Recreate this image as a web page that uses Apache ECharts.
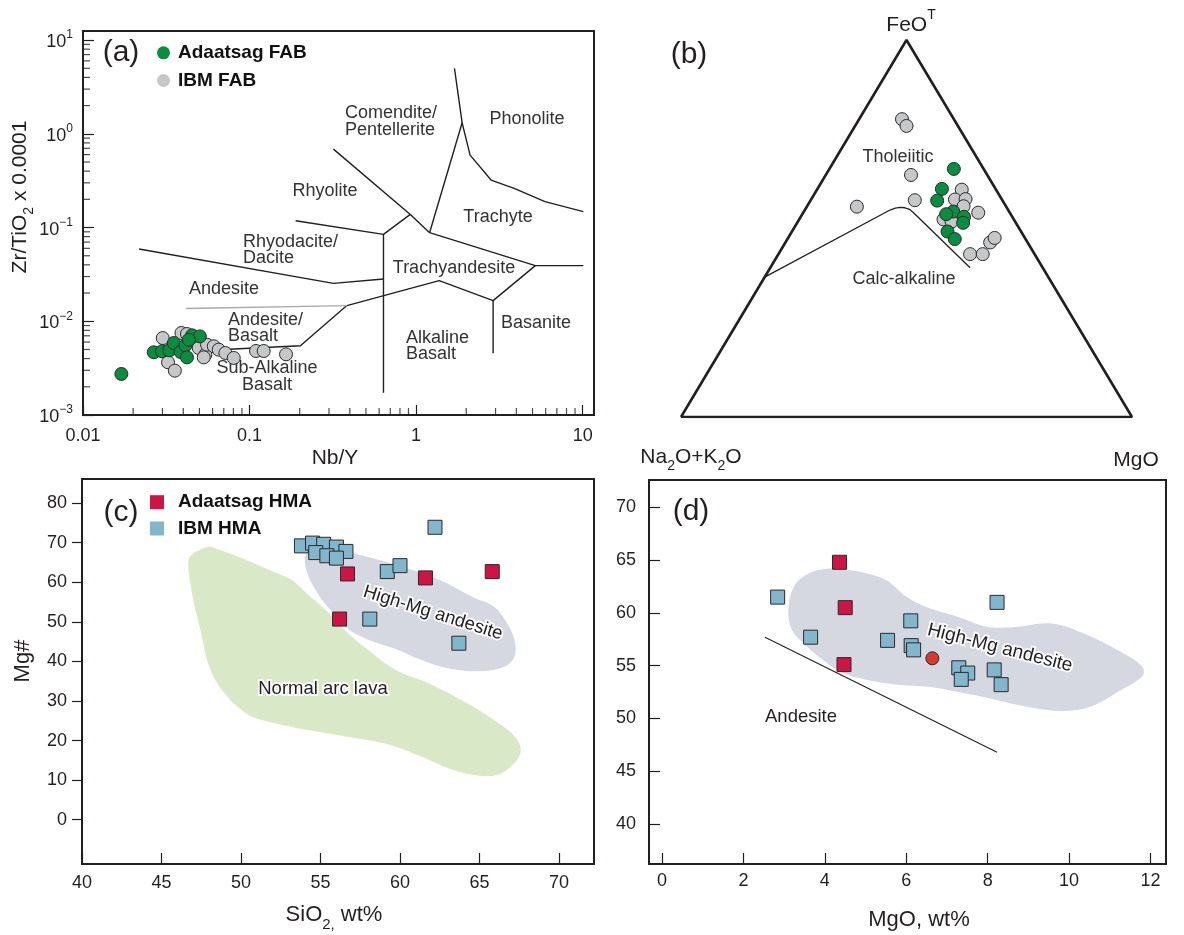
<!DOCTYPE html>
<html>
<head>
<meta charset="utf-8">
<title>Adaatsag FAB / HMA geochemistry</title>
<script src="https://cdn.jsdelivr.net/npm/echarts@6.0.0/dist/echarts.min.js"></script>
<style>
  html, body { margin: 0; padding: 0; background: #fff; }
  #chart { width: 1184px; height: 935px; }
</style>
</head>
<body>
<div id="chart"></div>
<script>
// ---------- (a) Zr/TiO2 vs Nb/Y ----------
const adaatsagFabNbY  = [0.0170, 0.0266, 0.0298, 0.0330, 0.0351, 0.0385, 0.0412, 0.0421, 0.0452, 0.0503, 0.0432];
const adaatsagFabZrTi = [0.00274, 0.00467, 0.00478, 0.00490, 0.00586, 0.00470, 0.00553, 0.00412, 0.00708, 0.00690, 0.00635];
const ibmFabNbY  = [0.0301, 0.0390, 0.0421, 0.0324, 0.0356, 0.0495, 0.0543, 0.0556, 0.0610, 0.0653, 0.0716, 0.0804, 0.0531, 0.1094, 0.1216, 0.1656];
const ibmFabZrTi = [0.00662, 0.00750, 0.00731, 0.00365, 0.00297, 0.00519, 0.00440, 0.00562, 0.00541, 0.00498, 0.00459, 0.00406, 0.00412, 0.00482, 0.00482, 0.00444];

// rock-type field boundaries, each a polyline of [Nb/Y, Zr/TiO2 x 0.0001]
const fieldBoundaries = [
  [[0.319, 0.687], [0.923, 0.138], [1.205, 0.0881]],
  [[0.189, 0.118], [0.637, 0.0846], [0.923, 0.138]],
  [[1.205, 0.0881], [1.89, 1.31]],
  [[1.70, 4.99], [1.89, 1.31], [2.11, 0.593], [2.82, 0.321], [3.88, 0.262], [5.94, 0.189], [10.1, 0.148]],
  [[1.205, 0.0881], [5.20, 0.0392], [10.1, 0.0392]],
  [[0.637, 0.0846], [0.637, 0.00173]],
  [[0.0217, 0.059], [0.319, 0.0254], [0.637, 0.0282]],
  [[0.075, 0.00502], [0.202, 0.00548], [0.384, 0.0147], [1.376, 0.0271], [2.90, 0.0166], [5.20, 0.0392]],
  [[2.90, 0.0166], [2.90, 0.00455]]
];
const andesiteDivide = [[0.0416, 0.0137], [0.384, 0.0147]];
const logMinorSteps = [2, 3, 4, 5, 6, 7, 8, 9];

// ---------- (b) AFM ternary, values in % (A = 100 - F - M) ----------
const afmAdaatsagF = [65.8, 60.5, 57.4, 54.5, 53.1, 51.5, 49.2, 47.2, 53.8];
const afmAdaatsagM = [27.6, 27.6, 28.1, 33.1, 36.2, 36.8, 34.5, 37.1, 31.9];
const afmIbmF = [79.0, 77.2, 64.2, 55.8, 57.5, 60.3, 57.7, 57.8, 55.9, 54.2, 52.4, 51.8, 43.2, 43.2, 46.3, 47.5];
const afmIbmM = [9.5, 11.4, 18.9, 11.1, 23.1, 32.1, 31.9, 34.2, 34.7, 38.8, 32.0, 34.1, 42.5, 45.3, 45.4, 45.8];
const afmCalcAlkalineF = [37.1, 54.9, 55.4, 55.6, 55.5, 55.1, 54.3, 39.6];
const afmCalcAlkalineM = [0.0, 18.9, 19.8, 20.8, 21.9, 23.1, 24.3, 44.3];
const afmFrameF = [0, 100, 0, 0];
const afmFrameM = [0, 0, 100, 0];

// ---------- (c) Mg# vs SiO2 ----------
const hmaAdaatsagSiO2 = [56.7, 56.2, 61.6, 65.8];
const hmaAdaatsagMgNo = [62.1, 50.7, 61.1, 62.7];
const hmaIbmSiO2 = [53.8, 54.5, 55.2, 56.0, 56.6, 54.7, 55.4, 56.0, 62.2, 59.2, 60.0, 58.1, 63.7];
const hmaIbmMgNo = [69.2, 69.9, 69.6, 68.9, 67.8, 67.5, 66.7, 66.1, 73.9, 62.7, 64.2, 50.7, 44.6];
const normalArcField = [
  [46.8, 66.5], [47.9, 68.9], [48.5, 68.4], [50.3, 65.7], [51.7, 63.2], [53.2, 60.6], [54.1, 57.3],
  [55.3, 53.1], [56.5, 48.0], [57.7, 43.8], [59.7, 37.9], [61.8, 34.5], [64.2, 29.5], [66.2, 24.4],
  [67.2, 21.1], [67.6, 17.7], [67.2, 14.3], [66.2, 11.4], [65.0, 11.1], [63.3, 12.6], [61.3, 16.0],
  [59.4, 18.9], [56.5, 21.1], [54.1, 22.7], [51.7, 24.8], [50.3, 26.9], [48.8, 32.8], [48.0, 38.7],
  [47.4, 48.8], [47.0, 55.6], [46.7, 63.2]
];
const hmaFieldSiO2 = [
  [54.1, 67.4], [54.8, 68.2], [56.5, 67.8], [58.0, 66.4], [60.1, 64.0], [62.5, 60.6], [64.7, 56.0],
  [65.9, 53.9], [66.6, 50.5], [67.2, 45.5], [67.2, 41.3], [66.6, 38.7], [65.0, 37.5], [63.0, 38.3],
  [61.3, 40.4], [59.9, 42.9], [58.0, 45.5], [56.8, 48.0], [55.8, 52.2], [54.8, 57.3], [54.1, 63.2]
];
const sio2Ticks = [40, 45, 50, 55, 60, 65, 70];
const mgNoTicksC = [0, 10, 20, 30, 40, 50, 60, 70, 80];

// ---------- (d) Mg# vs MgO ----------
const hmaAdaatsagMgO = [4.36, 4.50, 4.47];
const hmaAdaatsagMgNoD = [64.8, 60.5, 55.1];
const hmaIbmMgO = [2.84, 3.65, 5.54, 6.11, 6.12, 6.18, 7.29, 7.51, 7.35, 8.16, 8.33, 8.23];
const hmaIbmMgNoD = [61.5, 57.7, 57.4, 59.25, 56.9, 56.5, 54.8, 54.3, 53.7, 54.6, 53.2, 61.0];
const averageMgO = [6.64];
const averageMgNo = [55.7];
const andesiteLineMgO = [2.53, 8.23];
const andesiteLineMgNo = [57.7, 46.8];
const hmaFieldMgO = [
  [3.10, 60.3], [3.24, 62.5], [3.53, 63.6], [4.09, 64.2], [4.85, 63.9], [5.51, 63.1], [5.98, 61.6],
  [6.46, 60.6], [7.21, 59.7], [7.97, 58.7], [8.63, 58.65], [9.57, 59.0], [10.33, 58.1], [11.28, 56.3],
  [11.80, 54.9], [11.80, 54.0], [11.28, 52.7], [10.52, 51.1], [9.86, 50.7], [9.10, 51.0], [8.16, 51.8],
  [7.21, 52.55], [6.55, 53.0], [5.79, 53.2], [5.04, 53.65], [4.38, 54.4], [3.90, 55.7], [3.48, 57.1],
  [3.19, 58.4]
];
const mgoTicks = [0, 2, 4, 6, 8, 10, 12];
const mgNoTicksD = [40, 45, 50, 55, 60, 65, 70];

// ---------- styling ----------
const FONT = "'Liberation Sans', Arial, Helvetica, sans-serif";
const INK = '#231f20';
const TEXT = '#333333';
const GREEN = '#0b8d3f';
const GREY = '#c6c7c8';
const CRIMSON = '#cd1444';
const BLUE = '#82b6cd';
const AVG_RED = '#d33b2e';
const OUTLINE = '#2a2a2a';

const zip = (xs, ys) => xs.map((x, i) => [x, ys[i]]);
const ternaryXY = (F, M) => F.map((f, i) => [(M[i] + f / 2) / 100, f / 100]);

function lineSeries(idx, data, color, width) {
  return {
    type: 'line', xAxisIndex: idx, yAxisIndex: idx, data, symbol: 'none', silent: true, z: 3,
    lineStyle: { color, width }
  };
}
function scatterSeries(idx, name, data, symbol, size, color, z) {
  return {
    type: 'scatter', name, xAxisIndex: idx, yAxisIndex: idx, data, symbol, symbolSize: size, z: z || 5,
    itemStyle: { color, borderColor: OUTLINE, borderWidth: 1, opacity: 1 }
  };
}
function fieldSeries(idx, pts, color) {
  return {
    type: 'custom', xAxisIndex: idx, yAxisIndex: idx, silent: true, z: 1, data: pts,
    renderItem: (params, api) => {
      if (params.dataIndex !== 0) return null;
      return {
        type: 'polygon',
        shape: { points: pts.map(p => api.coord(p)), smooth: 0.35 },
        style: { fill: color }
      };
    }
  };
}

// log-decade minor ticks along the inside of the (a) frame
const xMinor = [], yMinor = [];
[0.01, 0.1, 1].forEach(d => logMinorSteps.forEach(k => xMinor.push([k * d, 0.001])));
[0.001, 0.01, 0.1, 1].forEach(d => logMinorSteps.forEach(k => yMinor.push([0.01, k * d])));

const series = [];
// (a)
fieldBoundaries.forEach(pl => series.push(lineSeries(0, pl, INK, 1.4)));
series.push(lineSeries(0, andesiteDivide, '#a9a9a9', 1.4));
series.push({ type: 'scatter', xAxisIndex: 0, yAxisIndex: 0, data: xMinor, symbol: 'rect',
  symbolSize: [1.2, 7], symbolOffset: [0, -3.5], itemStyle: { color: INK }, silent: true, clip: false, z: 6 });
series.push({ type: 'scatter', xAxisIndex: 0, yAxisIndex: 0, data: yMinor, symbol: 'rect',
  symbolSize: [7, 1.2], symbolOffset: [3.5, 0], itemStyle: { color: INK }, silent: true, clip: false, z: 6 });
series.push(scatterSeries(0, 'IBM FAB', zip(ibmFabNbY, ibmFabZrTi), 'circle', 13, GREY));
series.push(scatterSeries(0, 'Adaatsag FAB', zip(adaatsagFabNbY, adaatsagFabZrTi), 'circle', 13, GREEN));
// (b)
series.push(lineSeries(1, ternaryXY(afmFrameF, afmFrameM), INK, 2.6));
series.push(lineSeries(1, ternaryXY(afmCalcAlkalineF, afmCalcAlkalineM), INK, 1.3));
series.push(scatterSeries(1, 'IBM FAB', ternaryXY(afmIbmF, afmIbmM), 'circle', 13, GREY));
series.push(scatterSeries(1, 'Adaatsag FAB', ternaryXY(afmAdaatsagF, afmAdaatsagM), 'circle', 13, GREEN));
// (c)
series.push(fieldSeries(2, normalArcField, '#d9e8c7'));
series.push(fieldSeries(2, hmaFieldSiO2, '#d5d8e0'));
series.push(scatterSeries(2, 'IBM HMA', zip(hmaIbmSiO2, hmaIbmMgNo), 'rect', 14, BLUE));
series.push(scatterSeries(2, 'Adaatsag HMA', zip(hmaAdaatsagSiO2, hmaAdaatsagMgNo), 'rect', 14, CRIMSON));
// (d)
series.push(fieldSeries(3, hmaFieldMgO, '#d5d8e0'));
series.push(lineSeries(3, zip(andesiteLineMgO, andesiteLineMgNo), INK, 1.1));
series.push(scatterSeries(3, 'IBM HMA', zip(hmaIbmMgO, hmaIbmMgNoD), 'rect', 14, BLUE));
series.push(scatterSeries(3, 'Adaatsag HMA', zip(hmaAdaatsagMgO, hmaAdaatsagMgNoD), 'rect', 14, CRIMSON));
series.push(scatterSeries(3, 'Average', zip(averageMgO, averageMgNo), 'circle', 13, AVG_RED));

const tickFont = { fontFamily: FONT, fontSize: 18, color: INK };
const frame = { show: true, borderColor: INK, borderWidth: 2, backgroundColor: 'transparent' };
const noLine = { show: false, onZero: false };
const hidden = { show: false };

function valueAxis(idx, min, max, ticks, tickInside, tickLen, margin) {
  return {
    type: 'value', gridIndex: idx, min, max,
    axisLine: noLine, splitLine: hidden,
    axisTick: { show: true, inside: tickInside, length: tickLen, customValues: ticks,
      lineStyle: { color: INK, width: 1.2 } },
    axisLabel: Object.assign({ margin, customValues: ticks }, tickFont)
  };
}

const richBase = { fontFamily: FONT, fontSize: 18, color: INK, fill: INK };
const richSupY = { b: Object.assign({}, richBase, { verticalAlign: 'bottom', lineHeight: 22 }),
  s: Object.assign({}, richBase, { fontSize: 12, verticalAlign: 'top', lineHeight: 11 }) };

function text(x, y, str, o) {
  o = o || {};
  const style = {
    text: str, fill: o.fill || TEXT, fontFamily: FONT, fontSize: o.size || 18,
    fontWeight: o.weight || 'normal', align: o.align || 'center', verticalAlign: 'middle'
  };
  if (o.lineHeight) style.lineHeight = o.lineHeight;
  if (o.rich) style.rich = o.rich;
  if (o.halo) { style.stroke = '#ffffff'; style.lineWidth = 3.5; style.strokeFirst = true; }
  return { type: 'text', x, y, rotation: o.rotation || 0, silent: true, z: 50, style };
}
const sub = (size) => ({
  n: { fontFamily: FONT, fontSize: size, fill: INK, color: INK, verticalAlign: 'top', lineHeight: size + 6 },
  sub: { fontFamily: FONT, fontSize: Math.round(size * 0.68), fill: INK, color: INK, verticalAlign: 'bottom', lineHeight: Math.round(size * 0.68) },
  sup: { fontFamily: FONT, fontSize: Math.round(size * 0.68), fill: INK, color: INK, verticalAlign: 'top', lineHeight: Math.round(size * 0.68) },
  m: { fontFamily: FONT, fontSize: size, fill: INK, color: INK, verticalAlign: 'bottom', lineHeight: size + 6 }
});
const deg = Math.PI / 180;

const graphics = [
  // panel letters
  text(121, 53, '(a)', { size: 30, fill: INK }),
  text(689, 55, '(b)', { size: 30, fill: INK }),
  text(121, 513, '(c)', { size: 30, fill: INK }),
  text(691, 512, '(d)', { size: 30, fill: INK }),
  // axis titles
  text(335, 458, 'Nb/Y', { size: 21, fill: INK }),
  text(23, 197, '{n|Zr/TiO}{sub|2}{n| x 0.0001}', { size: 21, rich: sub(21), rotation: 90 * deg }),
  text(334, 918, '{n|SiO}{sub|2,}{n| wt%}', { size: 22, rich: sub(22) }),
  text(23, 661, 'Mg#', { size: 22, fill: INK, rotation: 90 * deg }),
  text(919, 920, 'MgO, wt%', { size: 22, fill: INK }),
  text(911, 22, '{m|FeO}{sup|T}', { size: 21, rich: sub(21) }),
  text(691, 460, '{n|Na}{sub|2}{n|O+K}{sub|2}{n|O}', { size: 21, rich: sub(21) }),
  text(1136, 460, 'MgO', { size: 21, fill: INK }),
  // (a) field names
  text(345, 122, 'Comendite/\nPentellerite', { align: 'left', lineHeight: 17 }),
  text(527, 119, 'Phonolite'),
  text(325, 191, 'Rhyolite'),
  text(498, 217, 'Trachyte'),
  text(243, 250.5, 'Rhyodacite/\nDacite', { align: 'left', lineHeight: 16 }),
  text(454, 268, 'Trachyandesite'),
  text(224, 289, 'Andesite'),
  text(228, 328, 'Andesite/\nBasalt', { align: 'left', lineHeight: 16 }),
  text(536, 323, 'Basanite'),
  text(406, 346, 'Alkaline\nBasalt', { align: 'left', lineHeight: 16.5 }),
  text(267, 376.5, 'Sub-Alkaline\nBasalt', { lineHeight: 16.5 }),
  // (b) series names
  text(898, 157, 'Tholeiitic'),
  text(904, 279, 'Calc-alkaline'),
  // (c) and (d) field names
  text(323, 689, 'Normal arc lava', { size: 18.5, fill: INK, halo: true }),
  text(433, 613, 'High-Mg andesite', { size: 18.5, fill: INK, halo: true, rotation: -17.4 * deg }),
  text(1000, 648, 'High-Mg andesite', { size: 19, fill: INK, halo: true, rotation: -14.3 * deg }),
  text(801, 717, 'Andesite', { size: 18.5, fill: INK })
];

const legendText = { fontFamily: FONT, fontSize: 19, fontWeight: 'bold', color: '#111', lineHeight: 18 };

const option = {
  animation: false,
  backgroundColor: '#ffffff',
  legend: [
    { data: ['Adaatsag FAB', 'IBM FAB'], orient: 'vertical', left: 157, top: 43.3, padding: 0,
      itemWidth: 13, itemHeight: 13, itemGap: 8.7, icon: 'circle', selectedMode: false,
      itemStyle: { borderWidth: 0 }, textStyle: Object.assign({ padding: [0, 0, 0, 3] }, legendText) },
    { data: ['Adaatsag HMA', 'IBM HMA'], orient: 'vertical', left: 150, top: 492.7, padding: 0,
      itemWidth: 14, itemHeight: 14, itemGap: 7.3, icon: 'rect', selectedMode: false,
      itemStyle: { borderWidth: 0 }, textStyle: Object.assign({ padding: [0, 0, 0, 9] }, legendText) }
  ],
  grid: [
    Object.assign({ left: 83, top: 31, width: 511, height: 384 }, frame),
    { left: 681, top: 40, width: 451, height: 377, show: false },
    Object.assign({ left: 82, top: 479, width: 512, height: 385 }, frame),
    Object.assign({ left: 649, top: 480, width: 517, height: 384 }, frame)
  ],
  xAxis: [
    { type: 'log', logBase: 10, gridIndex: 0, min: 0.01, max: 11.7,
      axisLine: noLine, splitLine: hidden, minorTick: hidden,
      axisTick: { show: true, inside: true, length: 10, lineStyle: { color: INK, width: 1.2 } },
      axisLabel: Object.assign({ margin: 12, showMaxLabel: false,
        formatter: v => String(Number(v.toPrecision(4))) }, tickFont) },
    { type: 'value', gridIndex: 1, min: 0, max: 1, show: false },
    valueAxis(2, 40, 72.2, sio2Ticks, true, 11, 10),
    valueAxis(3, -0.32, 12.38, mgoTicks, true, 11, 8.5)
  ],
  yAxis: [
    { type: 'log', logBase: 10, gridIndex: 0, min: 0.001, max: 12.5,
      axisLine: noLine, splitLine: hidden, minorTick: hidden,
      axisTick: { show: true, inside: true, length: 11, lineStyle: { color: INK, width: 1.2 } },
      axisLabel: { margin: 10, showMaxLabel: false,
        formatter: v => {
          const e = Math.round(Math.log10(v));
          return '{b|10}{s|' + (e < 0 ? '\u2212' + (-e) : e) + '}';
        },
        rich: richSupY } },
    { type: 'value', gridIndex: 1, min: 0, max: 1, show: false },
    valueAxis(2, -11.2, 86.1, mgNoTicksC, false, 10, 15),
    valueAxis(3, 36.2, 72.6, mgNoTicksD, true, 11, 13)
  ],
  graphic: graphics,
  series
};

const chart = echarts.init(document.getElementById('chart'), null, { renderer: 'canvas' });
chart.setOption(option);
</script>
</body>
</html>
